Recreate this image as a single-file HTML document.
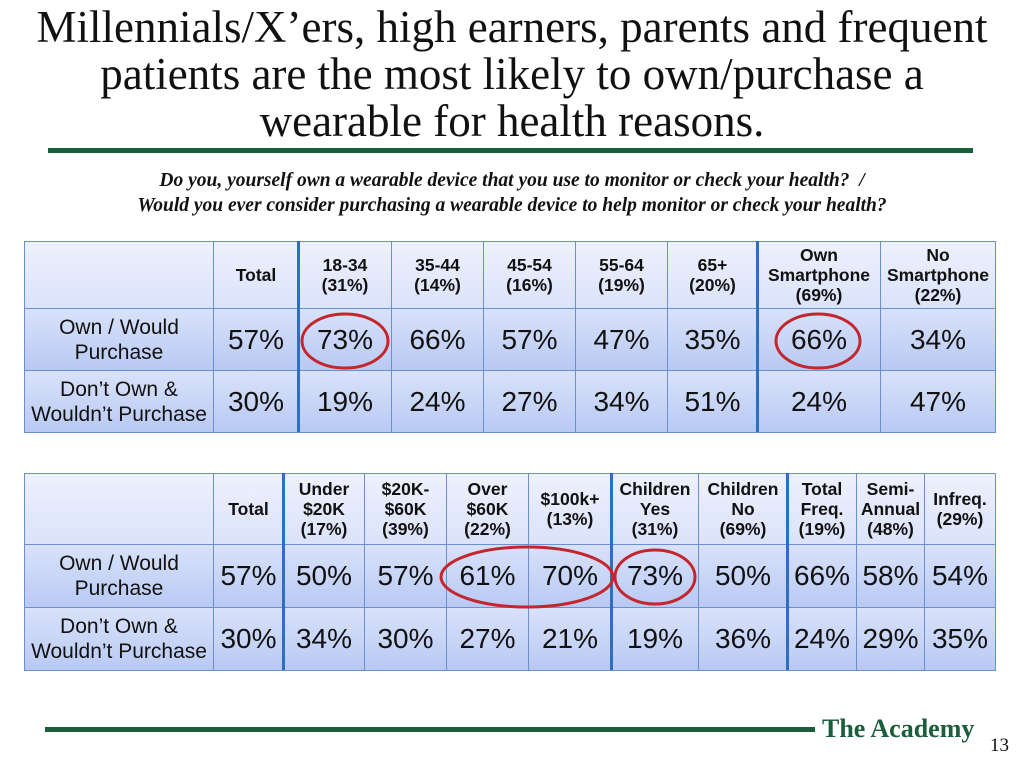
<!DOCTYPE html>
<html><head><meta charset="utf-8">
<style>
body{margin:0;width:1024px;height:768px;background:#fff;position:relative;overflow:hidden;font-family:"Liberation Sans",sans-serif}
.title{position:absolute;left:0;top:4px;width:1024px;text-align:center;font-family:"Liberation Serif",serif;font-size:45px;line-height:47px;color:#111}
.sub{position:absolute;left:0;top:168px;width:1024px;text-align:center;font-family:"Liberation Serif",serif;font-style:italic;font-weight:bold;font-size:19.5px;line-height:25px;color:#111}
.cell{position:absolute;box-sizing:border-box;border:1px solid #6d8fcf;display:flex;align-items:center;justify-content:center;text-align:center;color:#111;white-space:nowrap}
.hd{background:linear-gradient(#eef1fd,#dbe3fa);font-weight:bold;font-size:17.5px;line-height:20px}
.bd{background:linear-gradient(#d9e2fa,#b8c9f3);font-size:28px}
.lb{font-size:21px;line-height:25px}
.sep{position:absolute;width:3px;background:#2d6fc0}
</style></head><body>
<div class="title">Millennials/X’ers, high earners, parents and frequent<br>patients are the most likely to own/purchase a<br>wearable for health reasons.</div>
<div style="position:absolute;left:48px;top:148px;width:925px;height:5px;background:#1b5e3b"></div>
<div class="sub">Do you, yourself own a wearable device that you use to monitor or check your health? &nbsp;/<br>Would you ever consider purchasing a wearable device to help monitor or check your health?</div>
<div id="t1"></div>
<div id="t2"></div>
<svg style="position:absolute;left:0;top:0" width="1024" height="768">
<g fill="none" stroke="#c4262e" stroke-width="3">
<ellipse cx="345" cy="341" rx="43" ry="27"/>
<ellipse cx="818" cy="341" rx="42" ry="27"/>
<ellipse cx="527" cy="577" rx="86" ry="30"/>
<ellipse cx="655" cy="577" rx="40" ry="27"/>
</g></svg>
<div style="position:absolute;left:45px;top:727px;width:770px;height:5px;background:#1b5e3b"></div>
<div style="position:absolute;left:822px;top:714px;font-family:'Liberation Serif',serif;font-weight:bold;font-size:26px;color:#1b5e3b">The Academy</div>
<div style="position:absolute;left:990px;top:735px;font-family:'Liberation Serif',serif;font-size:19px;color:#111">13</div>
<script>
const t1Headers=["Total","18-34<br>(31%)","35-44<br>(14%)","45-54<br>(16%)","55-64<br>(19%)","65+<br>(20%)","Own<br>Smartphone<br>(69%)","No<br>Smartphone<br>(22%)"];
const t1Own=["57%","73%","66%","57%","47%","35%","66%","34%"];
const t1Dont=["30%","19%","24%","27%","34%","51%","24%","47%"];
const t2Headers=["Total","Under<br>$20K<br>(17%)","$20K-<br>$60K<br>(39%)","Over<br>$60K<br>(22%)","$100k+<br>(13%)","Children<br>Yes<br>(31%)","Children<br>No<br>(69%)","Total<br>Freq.<br>(19%)","Semi-<br>Annual<br>(48%)","Infreq.<br>(29%)"];
const t2Own=["57%","50%","57%","61%","70%","73%","50%","66%","58%","54%"];
const t2Dont=["30%","34%","30%","27%","21%","19%","36%","24%","29%","35%"];
const rowLabels=["Own / Would<br>Purchase","Don’t Own &amp;<br>Wouldn’t Purchase"];
function build(parent,xs,ys,headers,own,dont,seps){
  const p=document.getElementById(parent);
  function cell(x0,x1,y0,y1,cls,html){
    const d=document.createElement('div');
    d.className='cell '+cls;
    d.style.left=x0+'px';d.style.top=y0+'px';d.style.width=(x1-x0+1)+'px';d.style.height=(y1-y0+1)+'px';
    d.innerHTML=html;p.appendChild(d);return d;
  }
  let c=cell(xs[0],xs[1],ys[0],ys[1],'hd','');
  
  
  headers.forEach((h,i)=>{
    const e=cell(xs[i+1],xs[i+2],ys[0],ys[1],'hd',h);
    
    
  });
  [own,dont].forEach((row,r)=>{
    const l=cell(xs[0],xs[1],ys[r+1],ys[r+2],'bd lb',rowLabels[r]);
    
    
    row.forEach((v,i)=>{
      const e=cell(xs[i+1],xs[i+2],ys[r+1],ys[r+2],'bd',v);
      
      
    });
  });
  seps.forEach(s=>{
    const d=document.createElement('div');
    d.className='sep';
    
    
    d.style.left=(xs[s]-1)+'px';d.style.top=ys[0]+'px';d.style.height=(ys[3]-ys[0])+'px';
    p.appendChild(d);
  });
}
build('t1',[24,213,298,391,483,575,667,757,880,995],[241,308,370,432],t1Headers,t1Own,t1Dont,[2,7]);
build('t2',[24,213,283,364,446,528,611,698,787,856,924,995],[473,544,607,670],t2Headers,t2Own,t2Dont,[2,6,8]);
</script>
</body></html>
